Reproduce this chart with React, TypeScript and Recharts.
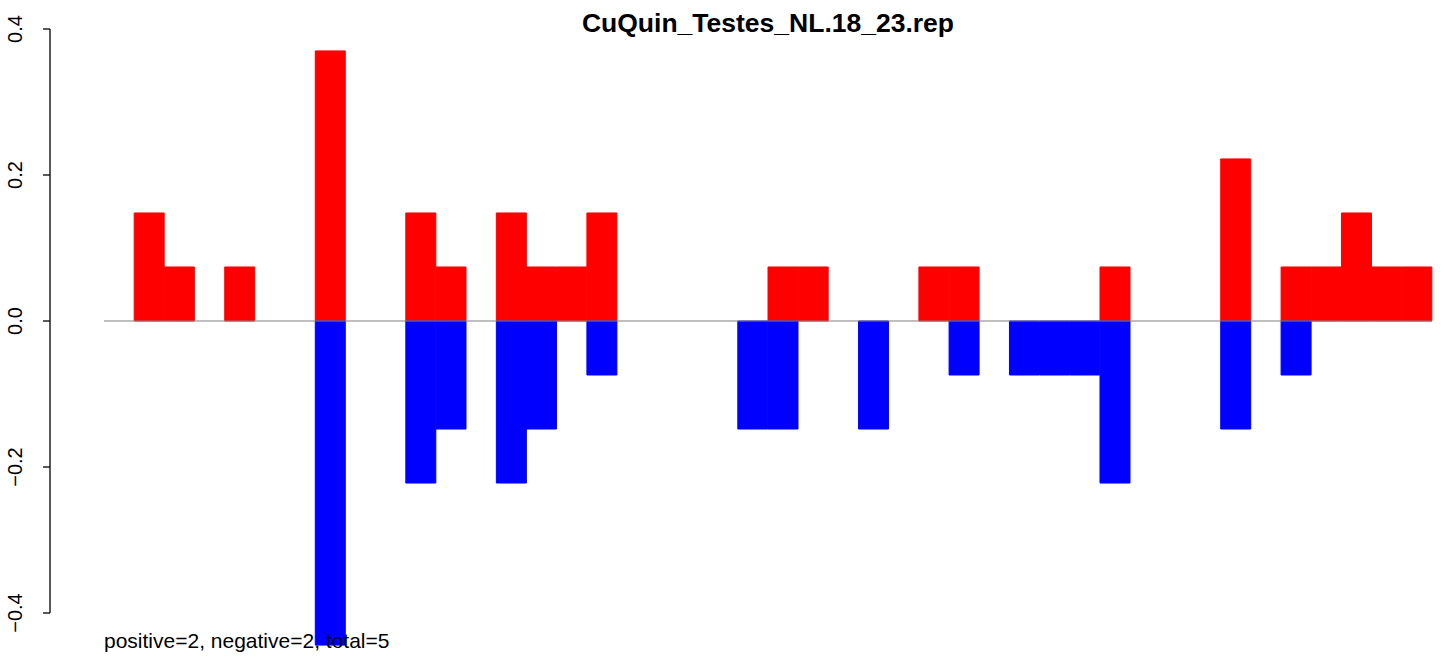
import { Bar, BarChart, ReferenceLine, XAxis, YAxis } from "recharts";

const chartTitle = "CuQuin_Testes_NL.18_23.rep";
const footNote = "positive=2, negative=2, total=5";

const positions = [
  1, 2, 3, 4, 5, 6, 7, 8, 9, 10, 11, 12, 13, 14, 15, 16, 17, 18, 19, 20, 21, 22,
  23, 24, 25, 26, 27, 28, 29, 30, 31, 32, 33, 34, 35, 36, 37, 38, 39, 40, 41, 42, 43, 44,
];

const positive = [
  0, 0.148, 0.074, 0, 0.074, 0, 0, 0.37, 0, 0, 0.148, 0.074, 0, 0.148, 0.074, 0.074, 0.148, 0, 0, 0, 0, 0,
  0.074, 0.074, 0, 0, 0, 0.074, 0.074, 0, 0, 0, 0, 0.074, 0, 0, 0, 0.222, 0, 0.074, 0.074, 0.148, 0.074, 0.074,
];

const negative = [
  0, 0, 0, 0, 0, 0, 0, -0.444, 0, 0, -0.222, -0.148, 0, -0.222, -0.148, 0, -0.074, 0, 0, 0, 0, -0.148,
  -0.148, 0, 0, -0.148, 0, 0, -0.074, 0, -0.074, -0.074, -0.074, -0.222, 0, 0, 0, -0.148, 0, -0.074, 0, 0, 0, 0,
];

const yTicks = [-0.4, -0.2, 0, 0.2, 0.4];
// the bar panel reaches a little below the last tick, where the longest bar ends
const barDomain = [-0.4466, 0.4];

const data = positions.map((pos, i) => ({ pos, positive: positive[i], negative: negative[i] }));

const font = '"Liberation Sans", Arial, Helvetica, sans-serif';
const W = 1444;
const H = 658;

function formatTick(v: number) {
  const s = Math.abs(v).toFixed(1);
  return v < 0 ? `\u2212${s}` : s;
}

function YTick(props: any) {
  const { x, y, payload } = props;
  return (
    <text
      x={x}
      y={y}
      transform={`rotate(-90, ${x}, ${y})`}
      textAnchor="middle"
      fontFamily={font}
      fontSize={20}
      fill="#000"
    >
      {formatTick(payload.value)}
    </text>
  );
}

const layer = { position: "absolute" as const, left: 0, top: 0 };

export default function App() {
  return (
    <div style={{ position: "absolute", left: 0, top: 0, width: W, height: H, background: "#fff" }}>
      {/* axis layer: R draws the y axis only between the outer ticks */}
      <div style={layer}>
        <BarChart width={W} height={H} data={data} margin={{ top: 29, right: 12, bottom: 45, left: 0 }}>
          <XAxis dataKey="pos" hide />
          <YAxis
            domain={[yTicks[0], yTicks[yTicks.length - 1]]}
            allowDataOverflow
            ticks={yTicks}
            width={50}
            tickSize={7}
            tickMargin={21}
            tick={<YTick />}
            axisLine={{ stroke: "#000", strokeWidth: 1.3 }}
            tickLine={{ stroke: "#000", strokeWidth: 1.3 }}
          />
          {/* invisible series so the axis gets a scale */}
          <Bar dataKey="positive" fill="none" stroke="none" isAnimationActive={false} />
        </BarChart>
      </div>
      {/* bar layer */}
      <div style={layer}>
        <BarChart
          width={W}
          height={H}
          data={data}
          stackOffset="sign"
          barCategoryGap={0}
          barGap={0}
          margin={{ top: 29, right: 12, bottom: 11, left: 104 }}
        >
          <XAxis dataKey="pos" hide />
          <YAxis domain={barDomain} hide />
          <Bar dataKey="positive" stackId="a" fill="#ff0000" stroke="#ff0000" strokeWidth={1} isAnimationActive={false} />
          <Bar dataKey="negative" stackId="a" fill="#0000ff" stroke="#0000ff" strokeWidth={1} isAnimationActive={false} />
          <ReferenceLine y={0} stroke="#808080" strokeWidth={1} />
        </BarChart>
      </div>
      <svg width={W} height={H} style={{ ...layer, pointerEvents: "none" }}>
        <text x={768} y={32} textAnchor="middle" fontFamily={font} fontWeight="bold" fontSize={26.5} fill="#000">
          {chartTitle}
        </text>
        <text x={104} y={648} fontFamily={font} fontSize={21} fill="#000">
          {footNote}
        </text>
      </svg>
    </div>
  );
}
